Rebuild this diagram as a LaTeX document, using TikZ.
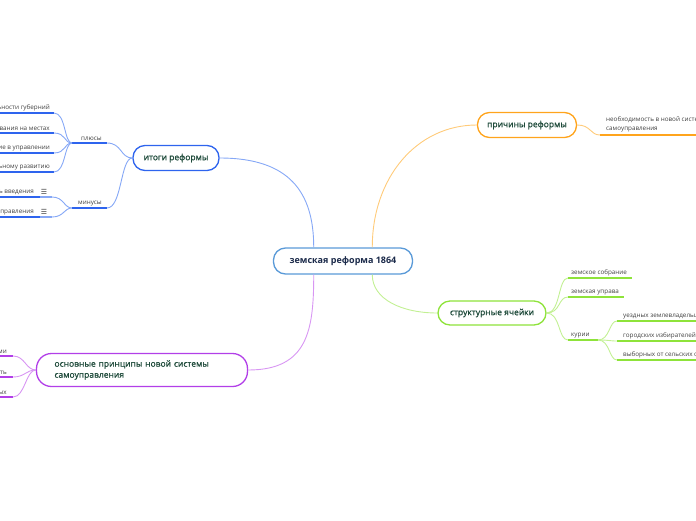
\documentclass[tikz,border=0pt]{standalone}
\usepackage{fontspec}
\setmainfont{Open Sans}
\newfontfamily\symfont{DejaVu Sans}
\newfontfamily\topicfont[FakeBold=0.9]{Open Sans}
\definecolor{rootc}{HTML}{5A9AD8}
\definecolor{ink}{HTML}{1E4A3A}
\definecolor{navy}{HTML}{1B2A4A}
\definecolor{blu}{HTML}{2E64EE}
\definecolor{blul}{HTML}{86A8F6}
\definecolor{org}{HTML}{FFA41C}
\definecolor{orgl}{HTML}{FFCB7A}
\definecolor{grn}{HTML}{8EE33A}
\definecolor{grnl}{HTML}{C2F093}
\definecolor{vio}{HTML}{B23FE8}
\definecolor{viol}{HTML}{D896F3}
\begin{document}
\begin{tikzpicture}[x=1pt,y=-1pt,
	topic/.style={draw, line width=1.3pt, rounded corners=12pt, fill=white, text=ink,
		minimum height=25pt, font=\fontsize{8.5}{11}\topicfont},
	lbl/.style={inner sep=1pt, text=black!75, font=\fontsize{6.3}{9}\selectfont},
	uline/.style={line width=1.8pt},
	link/.style={line width=0.9pt}]
	\useasboundingbox (0,0) rectangle (696,520);
	\clip (0,0) rectangle (696,520);
	\node[topic, draw=rootc, text=navy, minimum width=139pt, minimum height=26pt,
		font=\fontsize{9}{11}\selectfont\bfseries] (root) at (343,261) {земская реформа 1864};
	\node[topic, draw=blu, minimum width=86pt] (itogi) at (176,158) {итоги реформы};
	\node[topic, draw=org, minimum width=99pt] (prich) at (527,125) {причины реформы};
	\node[topic, draw=grn, minimum width=108pt, minimum height=24pt] (struct) at (492,313) {структурные ячейки};
	\node[topic, draw=vio, minimum height=33pt, text width=175pt, inner xsep=18pt, align=left,
		rounded corners=15pt] (osn) at (142,370) {основные принципы новой системы\\самоуправления};
	\draw[link, blul] (root.155) .. controls +(0,-55) and +(70,0) .. (itogi.east);
	\draw[link, viol] (root.205) .. controls +(0,55) and +(60,0) .. (osn.east);
	\draw[link, orgl] (root.25) .. controls +(0,-70) and +(-60,0) .. (prich.west);
	\draw[link, grnl] (root.335) .. controls +(0,25) and +(-35,0) .. (struct.west);
	% итоги
	\path (72,143) coordinate (plus) (107,143) coordinate (plus')
		(72,208) coordinate (minus) (107,208) coordinate (minus');
	\draw[uline, blu] (plus)--(plus') (minus)--(minus');
	\foreach \p in {plus', minus'}
	\draw[link, blul] (\p) .. controls +(15,0) and +(-12,0) .. (itogi.west);
	\node[lbl, anchor=south west] at (80,142) {плюсы};
	\node[lbl, anchor=south west] at (77,207) {минусы};
	\foreach \y/\t in {113/ьности губерний, 133/вания на местах, 153/ие в управлении, 172/ьному развитию}{
		\draw[uline, blu] (0,\y) coordinate (p\y) -- (54,\y) coordinate (q\y);
		\draw[link, blul] (q\y) .. controls +(12,0) and +(-8,0) .. (plus);
		\node[lbl, anchor=south east] at (51,\y-1) {\t};
	}
	\foreach \y/\t in {197/ь введения, 217/правления}{
		\draw[uline, blu] (0,\y) coordinate (m\y) -- (40,\y);
		\draw[uline, blul] (40,\y) -- (52,\y) coordinate (n\y);
		\draw[link, blul] (n\y) .. controls +(12,0) and +(-8,0) .. (minus);
		\node[lbl, anchor=south east] at (35,\y-1) {\t};
		\node[lbl, anchor=south, font=\fontsize{7}{8}\symfont] at (44,\y-1.5) {☰};
	}
	% причины
	\path (600,135) coordinate (nb) (696,135) coordinate (nb');
	\draw[link, orgl] (prich.east) .. controls +(14,0) and +(-10,0) .. (nb);
	\draw[uline, org] (nb)--(nb');
	\node[lbl, anchor=south west, align=left] at (605,133) {необходимость в новой системе\\самоуправления};
	% структура
	\foreach \y/\x/\t in {278/632/земское собрание, 297/624/земская управа, 340/598/курии}{
		\draw[link, grnl] (struct.east) .. controls +(14,0) and +(-10,0) .. (568,\y) coordinate (s\y);
		\draw[uline, grn] (s\y) -- (\x,\y);
		\node[lbl, anchor=south west] at (570,\y-1) {\t};
	}
	\coordinate (kur) at (598,340);
	\foreach \y/\t in {321/уездных землевладельцев, 341/городских избирателей, 360/выборных от сельских обществ}{
		\draw[link, grnl] (kur) .. controls +(12,0) and +(-8,0) .. (617,\y) coordinate (k\y);
		\draw[uline, grn] (k\y) -- (696,\y);
		\node[lbl, anchor=south west] at (622,\y-1) {\t};
	}
	% принципы
	\foreach \y/\t in {356/ми, 377/ть, 397/ых}{
		\draw[uline, vio] (0,\y) -- (13,\y) coordinate (v\y);
		\draw[link, viol] (v\y) .. controls +(12,0) and +(-10,0) .. (osn.west);
		\node[lbl, anchor=south east] at (8,\y-1) {\t};
	}
\end{tikzpicture}
\end{document}
